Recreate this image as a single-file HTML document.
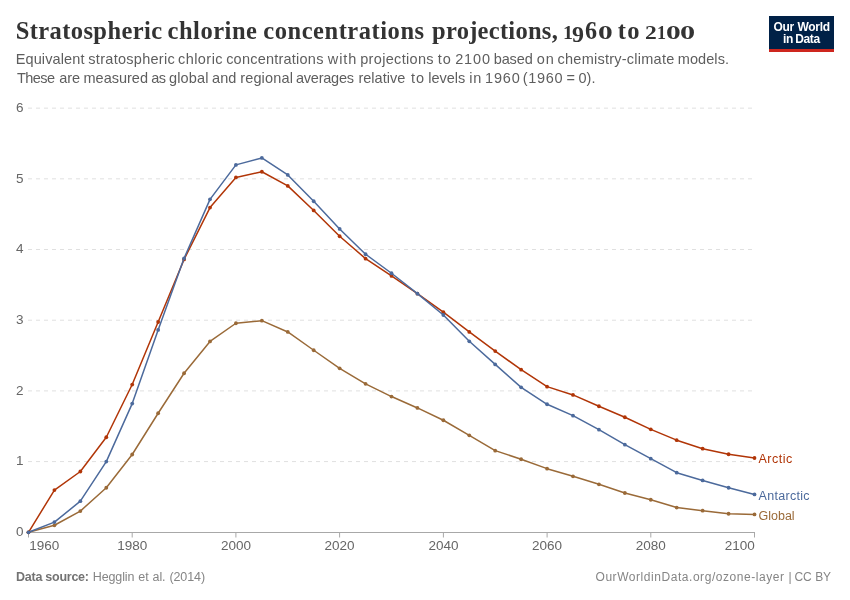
<!DOCTYPE html>
<html><head><meta charset="utf-8"><style>
html,body{margin:0;padding:0;background:#fff;}
body{width:850px;height:600px;position:relative;overflow:hidden;will-change:transform;font-family:"Liberation Sans",sans-serif;}
.a{position:absolute;white-space:nowrap;line-height:1;}
.title{top:19px;font-family:"Liberation Serif",serif;font-weight:bold;font-size:24.5px;letter-spacing:0.4px;word-spacing:-0.75px;color:#333333;}
.sub{top:0;font-size:14.5px;color:#5e5e5e;}
.logo{position:absolute;left:769px;top:16px;width:65px;height:36px;background:#002147;}
.logo .bar{position:absolute;left:0;bottom:0;width:65px;height:3px;background:#ce261e;}
.logo .t{position:absolute;color:#fff;font-weight:bold;font-size:12px;letter-spacing:-0.5px;white-space:nowrap;line-height:1;}
.foot{font-size:12.5px;color:#858585;}
.dg{position:absolute;font-family:"Liberation Serif",serif;font-weight:bold;font-size:100px;line-height:1;color:#333333;transform-origin:0 0;white-space:nowrap;}
svg text{font-family:"Liberation Sans",sans-serif;}
</style></head><body>
<div class="a title" style="left:15.69px;letter-spacing:0.404px">Stratospheric</div><div class="a title" style="left:167.5px;letter-spacing:0.53px">chlorine</div><div class="a title" style="left:263.3px;letter-spacing:0.538px">concentrations</div><div class="a title" style="left:432.07px;letter-spacing:0.274px">projections,</div><div class="a title" style="left:617.85px;letter-spacing:1.153px">to</div><div class="dg" style="left:562.60px;top:22.93px;transform:scale(0.2000,0.1924)">1</div><div class="dg" style="left:572.28px;top:21.93px;transform:scale(0.2395,0.2373)">9</div><div class="dg" style="left:585.38px;top:18.26px;transform:scale(0.2409,0.2522)">6</div><div class="dg" style="left:598.32px;top:23.21px;transform:scale(0.2952,0.1940)">0</div><div class="dg" style="left:645.06px;top:23.15px;transform:scale(0.2357,0.1970)">2</div><div class="dg" style="left:656.55px;top:22.55px;transform:scale(0.1811,0.1970)">1</div><div class="dg" style="left:665.62px;top:23.21px;transform:scale(0.2952,0.1940)">0</div><div class="dg" style="left:680.39px;top:23.21px;transform:scale(0.3024,0.1940)">0</div>
<div style="position:absolute;left:0;top:52px"><div class="a sub" style="left:15.69px;letter-spacing:0.118px">Equivalent</div><div class="a sub" style="left:88.34px;letter-spacing:0.283px">stratospheric</div><div class="a sub" style="left:177.93px;letter-spacing:0.461px">chloric</div><div class="a sub" style="left:226.13px;letter-spacing:0.229px">concentrations</div><div class="a sub" style="left:327.86px;letter-spacing:0.882px">with</div><div class="a sub" style="left:360.23px;letter-spacing:0.327px">projections</div><div class="a sub" style="left:437.72px;letter-spacing:1.000px">to</div><div class="a sub" style="left:455.16px;letter-spacing:0.864px">2100</div><div class="a sub" style="left:493.74px;letter-spacing:-0.138px">based</div><div class="a sub" style="left:536.77px;letter-spacing:1.000px">on</div><div class="a sub" style="left:557.53px;letter-spacing:0.246px">chemistry-climate</div><div class="a sub" style="left:677.80px;letter-spacing:0.069px">models.</div></div>
<div style="position:absolute;left:0;top:71px"><div class="a sub" style="left:17.05px;letter-spacing:-0.581px">These</div><div class="a sub" style="left:59.34px;letter-spacing:-0.155px">are</div><div class="a sub" style="left:83.50px;letter-spacing:0.004px">measured</div><div class="a sub" style="left:151.14px;letter-spacing:-0.510px">as</div><div class="a sub" style="left:168.94px;letter-spacing:0.148px">global</div><div class="a sub" style="left:212.04px;letter-spacing:0.041px">and</div><div class="a sub" style="left:240.20px;letter-spacing:0.159px">regional</div><div class="a sub" style="left:296.04px;letter-spacing:-0.239px">averages</div><div class="a sub" style="left:358.40px;letter-spacing:0.029px">relative</div><div class="a sub" style="left:411.00px;letter-spacing:1.000px">to</div><div class="a sub" style="left:428.20px;letter-spacing:-0.016px">levels</div><div class="a sub" style="left:469.13px;letter-spacing:1.000px">in</div><div class="a sub" style="left:485.07px;letter-spacing:0.813px">1960</div><div class="a sub" style="left:522.80px;letter-spacing:0.678px">(1960</div><div class="a sub" style="left:566.39px;letter-spacing:0.000px">=</div><div class="a sub" style="left:578.48px;letter-spacing:0.051px">0).</div></div>
<div class="logo"><div class="t" style="left:4.5px;top:5px;letter-spacing:-0.3px;word-spacing:0.5px">Our World</div><div class="t" style="left:14px;top:17px;letter-spacing:-0.4px;word-spacing:-0.5px">in Data</div><div class="bar"></div></div>
<svg width="850" height="600" style="position:absolute;left:0;top:0">
<g><line x1="28" y1="461.59" x2="754" y2="461.59" stroke="#e0e0e0" stroke-width="1" stroke-dasharray="4,4"/>
<line x1="28" y1="390.9" x2="754" y2="390.9" stroke="#e0e0e0" stroke-width="1" stroke-dasharray="4,4"/>
<line x1="28" y1="320.21" x2="754" y2="320.21" stroke="#e0e0e0" stroke-width="1" stroke-dasharray="4,4"/>
<line x1="28" y1="249.52" x2="754" y2="249.52" stroke="#e0e0e0" stroke-width="1" stroke-dasharray="4,4"/>
<line x1="28" y1="178.83" x2="754" y2="178.83" stroke="#e0e0e0" stroke-width="1" stroke-dasharray="4,4"/>
<line x1="28" y1="108.14" x2="754" y2="108.14" stroke="#e0e0e0" stroke-width="1" stroke-dasharray="4,4"/>
</g>
<line x1="28.5" y1="532" x2="28.5" y2="537.5" stroke="#a8a8a8" stroke-width="1"/><line x1="132.2" y1="532" x2="132.2" y2="537.5" stroke="#a8a8a8" stroke-width="1"/><line x1="235.9" y1="532" x2="235.9" y2="537.5" stroke="#a8a8a8" stroke-width="1"/><line x1="339.6" y1="532" x2="339.6" y2="537.5" stroke="#a8a8a8" stroke-width="1"/><line x1="443.4" y1="532" x2="443.4" y2="537.5" stroke="#a8a8a8" stroke-width="1"/><line x1="547.1" y1="532" x2="547.1" y2="537.5" stroke="#a8a8a8" stroke-width="1"/><line x1="650.8" y1="532" x2="650.8" y2="537.5" stroke="#a8a8a8" stroke-width="1"/><line x1="754.5" y1="532" x2="754.5" y2="537.5" stroke="#a8a8a8" stroke-width="1"/>
<line x1="28" y1="532.5" x2="754.5" y2="532.5" stroke="#a8a8a8" stroke-width="1"/>
<g font-size="13.5" fill="#666666"><text x="23.5" y="536.1" text-anchor="end">0</text><text x="23.5" y="465.4" text-anchor="end">1</text><text x="23.5" y="394.7" text-anchor="end">2</text><text x="23.5" y="324.0" text-anchor="end">3</text><text x="23.5" y="253.3" text-anchor="end">4</text><text x="23.5" y="182.6" text-anchor="end">5</text><text x="23.5" y="111.9" text-anchor="end">6</text></g>
<g font-size="13.5" fill="#666666"><text x="132.2" y="550" text-anchor="middle">1980</text><text x="235.9" y="550" text-anchor="middle">2000</text><text x="339.6" y="550" text-anchor="middle">2020</text><text x="443.4" y="550" text-anchor="middle">2040</text><text x="547.1" y="550" text-anchor="middle">2060</text><text x="650.8" y="550" text-anchor="middle">2080</text><text x="754.8" y="550" text-anchor="end">2100</text><text x="29.2" y="550" text-anchor="start">1960</text></g>
<polyline points="28.50,532.28 54.43,490.08 80.36,471.49 106.29,437.27 132.21,384.54 158.14,321.98 184.07,259.42 210.00,207.60 235.93,177.42 261.86,171.76 287.79,185.90 313.71,210.43 339.64,236.23 365.57,258.64 391.50,275.96 417.43,293.63 443.36,312.22 469.29,331.94 495.21,351.10 521.14,369.69 547.07,386.66 573.00,394.93 598.93,406.24 624.86,417.27 650.79,429.36 676.71,440.17 702.64,448.72 728.57,454.24 754.50,457.98" fill="none" stroke="#B13507" stroke-width="1.5" stroke-linejoin="round"/>
<circle cx="28.50" cy="532.28" r="1.9" fill="#B13507"/><circle cx="54.43" cy="490.08" r="1.9" fill="#B13507"/><circle cx="80.36" cy="471.49" r="1.9" fill="#B13507"/><circle cx="106.29" cy="437.27" r="1.9" fill="#B13507"/><circle cx="132.21" cy="384.54" r="1.9" fill="#B13507"/><circle cx="158.14" cy="321.98" r="1.9" fill="#B13507"/><circle cx="184.07" cy="259.42" r="1.9" fill="#B13507"/><circle cx="210.00" cy="207.60" r="1.9" fill="#B13507"/><circle cx="235.93" cy="177.42" r="1.9" fill="#B13507"/><circle cx="261.86" cy="171.76" r="1.9" fill="#B13507"/><circle cx="287.79" cy="185.90" r="1.9" fill="#B13507"/><circle cx="313.71" cy="210.43" r="1.9" fill="#B13507"/><circle cx="339.64" cy="236.23" r="1.9" fill="#B13507"/><circle cx="365.57" cy="258.64" r="1.9" fill="#B13507"/><circle cx="391.50" cy="275.96" r="1.9" fill="#B13507"/><circle cx="417.43" cy="293.63" r="1.9" fill="#B13507"/><circle cx="443.36" cy="312.22" r="1.9" fill="#B13507"/><circle cx="469.29" cy="331.94" r="1.9" fill="#B13507"/><circle cx="495.21" cy="351.10" r="1.9" fill="#B13507"/><circle cx="521.14" cy="369.69" r="1.9" fill="#B13507"/><circle cx="547.07" cy="386.66" r="1.9" fill="#B13507"/><circle cx="573.00" cy="394.93" r="1.9" fill="#B13507"/><circle cx="598.93" cy="406.24" r="1.9" fill="#B13507"/><circle cx="624.86" cy="417.27" r="1.9" fill="#B13507"/><circle cx="650.79" cy="429.36" r="1.9" fill="#B13507"/><circle cx="676.71" cy="440.17" r="1.9" fill="#B13507"/><circle cx="702.64" cy="448.72" r="1.9" fill="#B13507"/><circle cx="728.57" cy="454.24" r="1.9" fill="#B13507"/><circle cx="754.50" cy="457.98" r="1.9" fill="#B13507"/>

<polyline points="28.50,532.28 54.43,525.28 80.36,511.07 106.29,487.75 132.21,454.52 158.14,413.24 184.07,373.23 210.00,341.42 235.93,323.25 261.86,320.63 287.79,331.94 313.71,350.25 339.64,368.28 365.57,383.83 391.50,396.56 417.43,407.94 443.36,420.24 469.29,435.29 495.21,450.63 521.14,459.26 547.07,468.66 573.00,476.29 598.93,484.28 624.86,492.98 650.79,499.76 676.71,507.54 702.64,510.72 728.57,513.76 754.50,514.47" fill="none" stroke="#9A6A38" stroke-width="1.5" stroke-linejoin="round"/>
<circle cx="28.50" cy="532.28" r="1.9" fill="#9A6A38"/><circle cx="54.43" cy="525.28" r="1.9" fill="#9A6A38"/><circle cx="80.36" cy="511.07" r="1.9" fill="#9A6A38"/><circle cx="106.29" cy="487.75" r="1.9" fill="#9A6A38"/><circle cx="132.21" cy="454.52" r="1.9" fill="#9A6A38"/><circle cx="158.14" cy="413.24" r="1.9" fill="#9A6A38"/><circle cx="184.07" cy="373.23" r="1.9" fill="#9A6A38"/><circle cx="210.00" cy="341.42" r="1.9" fill="#9A6A38"/><circle cx="235.93" cy="323.25" r="1.9" fill="#9A6A38"/><circle cx="261.86" cy="320.63" r="1.9" fill="#9A6A38"/><circle cx="287.79" cy="331.94" r="1.9" fill="#9A6A38"/><circle cx="313.71" cy="350.25" r="1.9" fill="#9A6A38"/><circle cx="339.64" cy="368.28" r="1.9" fill="#9A6A38"/><circle cx="365.57" cy="383.83" r="1.9" fill="#9A6A38"/><circle cx="391.50" cy="396.56" r="1.9" fill="#9A6A38"/><circle cx="417.43" cy="407.94" r="1.9" fill="#9A6A38"/><circle cx="443.36" cy="420.24" r="1.9" fill="#9A6A38"/><circle cx="469.29" cy="435.29" r="1.9" fill="#9A6A38"/><circle cx="495.21" cy="450.63" r="1.9" fill="#9A6A38"/><circle cx="521.14" cy="459.26" r="1.9" fill="#9A6A38"/><circle cx="547.07" cy="468.66" r="1.9" fill="#9A6A38"/><circle cx="573.00" cy="476.29" r="1.9" fill="#9A6A38"/><circle cx="598.93" cy="484.28" r="1.9" fill="#9A6A38"/><circle cx="624.86" cy="492.98" r="1.9" fill="#9A6A38"/><circle cx="650.79" cy="499.76" r="1.9" fill="#9A6A38"/><circle cx="676.71" cy="507.54" r="1.9" fill="#9A6A38"/><circle cx="702.64" cy="510.72" r="1.9" fill="#9A6A38"/><circle cx="728.57" cy="513.76" r="1.9" fill="#9A6A38"/><circle cx="754.50" cy="514.47" r="1.9" fill="#9A6A38"/>

<polyline points="28.50,532.28 54.43,522.10 80.36,501.18 106.29,461.59 132.21,403.62 158.14,329.97 184.07,258.29 210.00,199.33 235.93,164.90 261.86,157.91 287.79,174.94 313.71,201.24 339.64,228.95 365.57,254.26 391.50,273.27 417.43,293.63 443.36,314.98 469.29,341.28 495.21,364.39 521.14,387.37 547.07,404.26 573.00,415.64 598.93,429.64 624.86,444.70 650.79,458.69 676.71,472.69 702.64,480.46 728.57,487.75 754.50,494.46" fill="none" stroke="#4C6A9C" stroke-width="1.5" stroke-linejoin="round"/>
<circle cx="28.50" cy="532.28" r="1.9" fill="#4C6A9C"/><circle cx="54.43" cy="522.10" r="1.9" fill="#4C6A9C"/><circle cx="80.36" cy="501.18" r="1.9" fill="#4C6A9C"/><circle cx="106.29" cy="461.59" r="1.9" fill="#4C6A9C"/><circle cx="132.21" cy="403.62" r="1.9" fill="#4C6A9C"/><circle cx="158.14" cy="329.97" r="1.9" fill="#4C6A9C"/><circle cx="184.07" cy="258.29" r="1.9" fill="#4C6A9C"/><circle cx="210.00" cy="199.33" r="1.9" fill="#4C6A9C"/><circle cx="235.93" cy="164.90" r="1.9" fill="#4C6A9C"/><circle cx="261.86" cy="157.91" r="1.9" fill="#4C6A9C"/><circle cx="287.79" cy="174.94" r="1.9" fill="#4C6A9C"/><circle cx="313.71" cy="201.24" r="1.9" fill="#4C6A9C"/><circle cx="339.64" cy="228.95" r="1.9" fill="#4C6A9C"/><circle cx="365.57" cy="254.26" r="1.9" fill="#4C6A9C"/><circle cx="391.50" cy="273.27" r="1.9" fill="#4C6A9C"/><circle cx="417.43" cy="293.63" r="1.9" fill="#4C6A9C"/><circle cx="443.36" cy="314.98" r="1.9" fill="#4C6A9C"/><circle cx="469.29" cy="341.28" r="1.9" fill="#4C6A9C"/><circle cx="495.21" cy="364.39" r="1.9" fill="#4C6A9C"/><circle cx="521.14" cy="387.37" r="1.9" fill="#4C6A9C"/><circle cx="547.07" cy="404.26" r="1.9" fill="#4C6A9C"/><circle cx="573.00" cy="415.64" r="1.9" fill="#4C6A9C"/><circle cx="598.93" cy="429.64" r="1.9" fill="#4C6A9C"/><circle cx="624.86" cy="444.70" r="1.9" fill="#4C6A9C"/><circle cx="650.79" cy="458.69" r="1.9" fill="#4C6A9C"/><circle cx="676.71" cy="472.69" r="1.9" fill="#4C6A9C"/><circle cx="702.64" cy="480.46" r="1.9" fill="#4C6A9C"/><circle cx="728.57" cy="487.75" r="1.9" fill="#4C6A9C"/><circle cx="754.50" cy="494.46" r="1.9" fill="#4C6A9C"/>

<g font-size="12.5">
<text x="758.5" y="462.5" fill="#B13507" letter-spacing="0.5">Arctic</text>
<text x="758.5" y="499.6" fill="#4C6A9C" letter-spacing="0.3">Antarctic</text>
<text x="758.5" y="519.6" fill="#9A6A38">Global</text>
</g>
</svg>
<div class="a foot" style="left:16px;top:571px"><b style="color:#737373;letter-spacing:-0.25px">Data source:</b><span style="letter-spacing:-0.1px;word-spacing:0.6px"> Hegglin et al. (2014)</span></div>
<div class="a foot" style="left:595.5px;top:571px;font-size:12px;letter-spacing:0.55px">OurWorldinData.org/ozone-layer</div><div class="a foot" style="left:788.6px;top:571px;font-size:12px">|</div><div class="a foot" style="left:794.6px;top:571px;font-size:12px;letter-spacing:-0.2px;word-spacing:0.5px">CC BY</div>
</body></html>
